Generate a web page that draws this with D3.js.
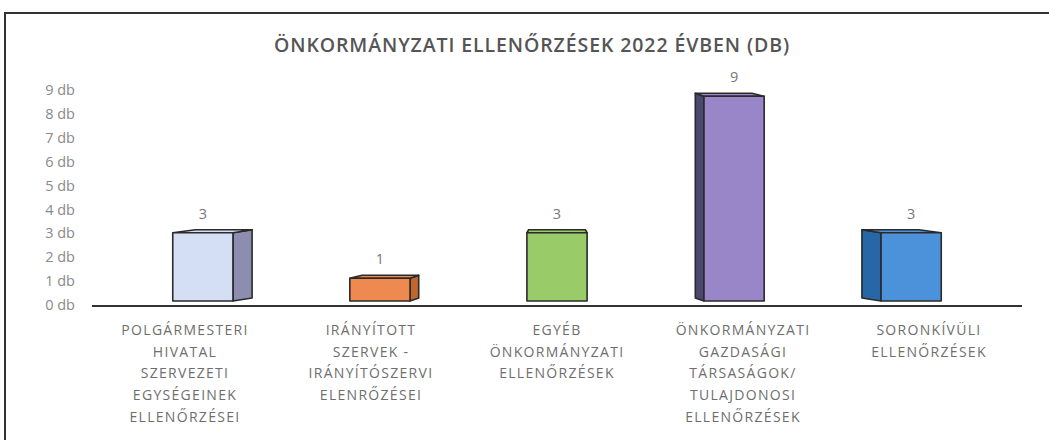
<!DOCTYPE html>
<html><head><meta charset="utf-8">
<script src="https://cdn.jsdelivr.net/npm/d3@7"></script>
<style>
html,body{margin:0;padding:0;background:#fff;}
svg{display:block;}
</style></head>
<body>
<svg id="chart" width="1049" height="440"></svg>
<script>
const title = "ÖNKORMÁNYZATI ELLENŐRZÉSEK 2022 ÉVBEN (DB)";
const categories = [
  ["POLGÁRMESTERI","HIVATAL","SZERVEZETI","EGYSÉGEINEK","ELLENŐRZÉSEI"],
  ["IRÁNYÍTOTT","SZERVEK -","IRÁNYÍTÓSZERVI","ELENRŐZÉSEI"],
  ["EGYÉB","ÖNKORMÁNYZATI","ELLENŐRZÉSEK"],
  ["ÖNKORMÁNYZATI","GAZDASÁGI","TÁRSASÁGOK/","TULAJDONOSI","ELLENŐRZÉSEK"],
  ["SORONKÍVÜLI","ELLENŐRZÉSEK"]
];
const values = [3, 1, 3, 9, 3];
const tickValues = [0,1,2,3,4,5,6,7,8,9];
const frontColors = ["#d4def4", "#ee8a4f", "#9acb69", "#9886c8", "#4c92db"];
const sideColors  = ["#8d8db0", "#c0662f", "#6f9e45", "#4a4771", "#2767a8"];

const svg = d3.select("#chart");
const keys = categories.map((c,i)=>"c"+i);

// floor-level (wall) scales
const x = d3.scaleBand().domain(keys).range([92, 1022]).paddingInner(0).paddingOuter(0);
const y = d3.scaleLinear().domain([0, 9]).range([305, 90]);

// frame
svg.append("rect").attr("x",5).attr("y",13).attr("width",1100).attr("height",500)
  .attr("fill","none").attr("stroke","#333").attr("stroke-width",2);

// title
svg.append("text").attr("x",532).attr("y",52).attr("text-anchor","middle")
  .attr("font-family","Open Sans, sans-serif").attr("font-weight","600")
  .attr("font-size",19.5).attr("letter-spacing","0.9px").attr("fill","#555").text(title);

// y tick labels
svg.append("g").selectAll("text").data(tickValues).join("text")
  .attr("x",75).attr("y",d=>y(d)).attr("dy","0.35em").attr("text-anchor","end")
  .attr("font-family","Open Sans, sans-serif").attr("font-size",14.5).attr("fill","#8a8a8a")
  .text(d=>d+" db");

// perspective
const vpx = (x.range()[0]+x.range()[1])/2, vpy = 221;
const s1 = 0.952, r = 0.941, dyBack = -3;
const barFrac = 0.34;
function front(px, py){ return [vpx + (px - vpx)*s1, vpy + (py - vpy)*s1]; }

const bars = svg.append("g");
values.forEach((v,i)=>{
  const k = keys[i];
  const xc = x(k) + x.bandwidth()/2;
  const hw = x.bandwidth()*barFrac/2;
  const [fl, ft] = front(xc - hw, y(v));
  const [fr, fb] = front(xc + hw, y(0));
  const bx = px => vpx + (px - vpx)*r;
  const bl = bx(fl), br = bx(fr);
  const bt = ft + dyBack, bb = fb + dyBack;
  const g = bars.append("g").attr("stroke","#2a2a2a").attr("stroke-width",1.6).attr("stroke-linejoin","round");
  if (fr < vpx - 1) {
    g.append("polygon").attr("points",[[fr,ft],[br,bt],[br,bb],[fr,fb]].join(" ")).attr("fill",sideColors[i]);
  } else if (fl > vpx + 1) {
    g.append("polygon").attr("points",[[fl,ft],[bl,bt],[bl,bb],[fl,fb]].join(" ")).attr("fill",sideColors[i]);
  }
  g.append("polygon").attr("points",[[fl,ft],[bl,bt],[br,bt],[fr,ft]].join(" ")).attr("fill",frontColors[i]);
  g.append("rect").attr("x",fl).attr("y",ft).attr("width",fr-fl).attr("height",fb-ft).attr("fill",frontColors[i]);
  svg.append("text").attr("x",(fl+fr)/2).attr("y",ft-14).attr("text-anchor","middle")
    .attr("font-family","Open Sans, sans-serif").attr("font-size",14.5).attr("fill","#777").text(v);
});

// baseline
svg.append("line").attr("x1",x.range()[0]).attr("x2",x.range()[1]).attr("y1",306).attr("y2",306)
  .attr("stroke","#333").attr("stroke-width",2.2);

// category labels
const cl = svg.append("g").attr("font-family","Open Sans, sans-serif").attr("font-size",14)
  .attr("letter-spacing","1.3px").attr("fill","#6e6e6e").attr("text-anchor","middle");
categories.forEach((lines,i)=>{
  const cx = x(keys[i]) + x.bandwidth()/2;
  const t = cl.append("text").attr("x", cx).attr("y",335);
  lines.forEach((ln,j)=>{
    t.append("tspan").attr("x", cx).attr("dy", j===0?0:21.7).text(ln);
  });
});
</script>
</body></html>
